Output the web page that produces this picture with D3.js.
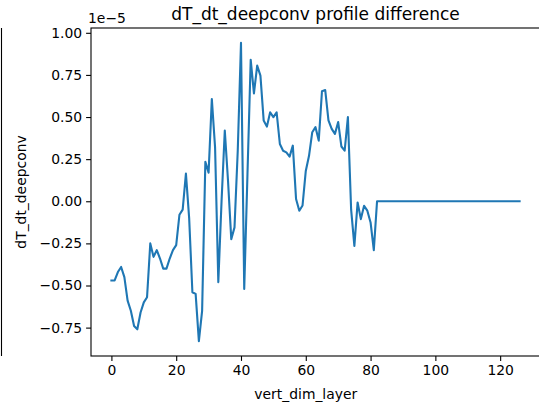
<!DOCTYPE html>
<html lang="en">
<head>
    <meta charset="UTF-8">
    <title>dT_dt_deepconv profile difference</title>
    <script src="https://d3js.org/d3.v7.min.js"></script>
    <style>
        body {
            margin: 0;
            background: #fff;
            font-family: "DejaVu Sans", sans-serif;
        }
        svg text {
            fill: #000;
        }
    </style>
</head>
<body>
    <div id="chart"></div>

    <script>
        // profile difference, in units of 1e-5 (shown by the offset text)
        const layers = d3.range(0, 127);
        const diffValues = [
            -0.47, -0.47, -0.42, -0.39, -0.45, -0.59, -0.65, -0.74, -0.76, -0.66,
            -0.60, -0.57, -0.25, -0.33, -0.29, -0.34, -0.40, -0.40, -0.34, -0.29,
            -0.26, -0.08, -0.05, 0.165, -0.10, -0.54, -0.55, -0.83, -0.65, 0.235,
            0.17, 0.607, 0.32, -0.48, 0.0, 0.42, 0.12, -0.225, -0.155, 0.30,
            0.94, -0.52, 0.16, 0.84, 0.64, 0.805, 0.746, 0.48, 0.443, 0.528,
            0.50, 0.528, 0.34, 0.30, 0.29, 0.265, 0.33, 0.013, -0.056, -0.025,
            0.18, 0.27, 0.41, 0.44, 0.36, 0.653, 0.66, 0.48, 0.43, 0.40,
            0.47, 0.325, 0.30, 0.50, -0.05, -0.265, -0.007, -0.106, -0.027, -0.056,
            -0.126, -0.29, 0.0, 0, 0, 0, 0, 0, 0, 0,
            0, 0, 0, 0, 0, 0, 0, 0, 0, 0,
            0, 0, 0, 0, 0, 0, 0, 0, 0, 0,
            0, 0, 0, 0, 0, 0, 0, 0, 0, 0,
            0, 0, 0, 0, 0, 0, 0
        ];
        const xTicks = [0, 20, 40, 60, 80, 100, 120];
        const yTicks = [-0.75, -0.5, -0.25, 0, 0.25, 0.5, 0.75, 1.0];

        const W = 539, H = 410;
        const margin = { top: 28, right: -1, bottom: 54, left: 91 };
        const width = W - margin.left - margin.right,
            height = H - margin.top - margin.bottom;

        const data = layers.map((l, i) => ({ layer: l, value: diffValues[i] }));

        const svg = d3.select("#chart").append("svg")
            .attr("width", W)
            .attr("height", H)
            .style("display", "block");

        // stray spine from a neighbouring panel at the left edge
        svg.append("line")
            .attr("x1", 1.5).attr("x2", 1.5)
            .attr("y1", margin.top).attr("y2", margin.top + height)
            .attr("stroke", "#000").attr("stroke-width", 1.1);

        const g = svg.append("g")
            .attr("transform", `translate(${margin.left},${margin.top})`);

        // matplotlib style 5% margins
        const xExt = d3.extent(layers), yExt = d3.extent(diffValues);
        const xPad = (xExt[1] - xExt[0]) * 0.05, yPad = (yExt[1] - yExt[0]) * 0.05;

        const x = d3.scaleLinear()
            .domain([xExt[0] - xPad, xExt[1] + xPad])
            .range([0, width]);
        const y = d3.scaleLinear()
            .domain([yExt[0] - yPad, yExt[1] + yPad])
            .range([height, 0]);

        const xAxis = g.append("g")
            .attr("transform", `translate(0,${height})`)
            .call(d3.axisBottom(x).tickValues(xTicks).tickSize(4.9).tickPadding(4).tickFormat(d3.format("d")));
        const yAxis = g.append("g")
            .call(d3.axisLeft(y).tickValues(yTicks).tickSize(4.9).tickPadding(4).tickFormat(d3.format(".2f")));

        [xAxis, yAxis].forEach(a => {
            a.select(".domain").remove();
            a.selectAll(".tick line").attr("stroke", "#000").attr("stroke-width", 1.1);
            a.selectAll("text")
                .style("font-family", "DejaVu Sans")
                .style("font-size", "13.9px")
                .attr("fill", "#000");
        });

        g.append("path")
            .datum(data)
            .attr("fill", "none")
            .attr("stroke", "#1f77b4")
            .attr("stroke-width", 2.1)
            .attr("stroke-linejoin", "round")
            .attr("stroke-linecap", "square")
            .attr("d", d3.line().x(d => x(d.layer)).y(d => y(d.value)));

        // frame
        g.append("rect")
            .attr("width", width).attr("height", height)
            .attr("fill", "none")
            .attr("stroke", "#000").attr("stroke-width", 1.1);

        g.append("text")
            .attr("x", width / 2).attr("y", -8)
            .attr("text-anchor", "middle")
            .style("font-size", "17px")
            .text("dT_dt_deepconv profile difference");

        g.append("text")
            .attr("x", -3).attr("y", -5)
            .style("font-size", "13.9px")
            .text("1e\u22125");

        g.append("text")
            .attr("x", x(60)).attr("y", height + 43)
            .attr("text-anchor", "middle")
            .style("font-size", "13.9px")
            .text("vert_dim_layer");

        g.append("text")
            .attr("transform", `translate(${-65},${height / 2}) rotate(-90)`)
            .attr("text-anchor", "middle")
            .style("font-size", "13.9px")
            .text("dT_dt_deepconv");
    </script>
</body>
</html>
